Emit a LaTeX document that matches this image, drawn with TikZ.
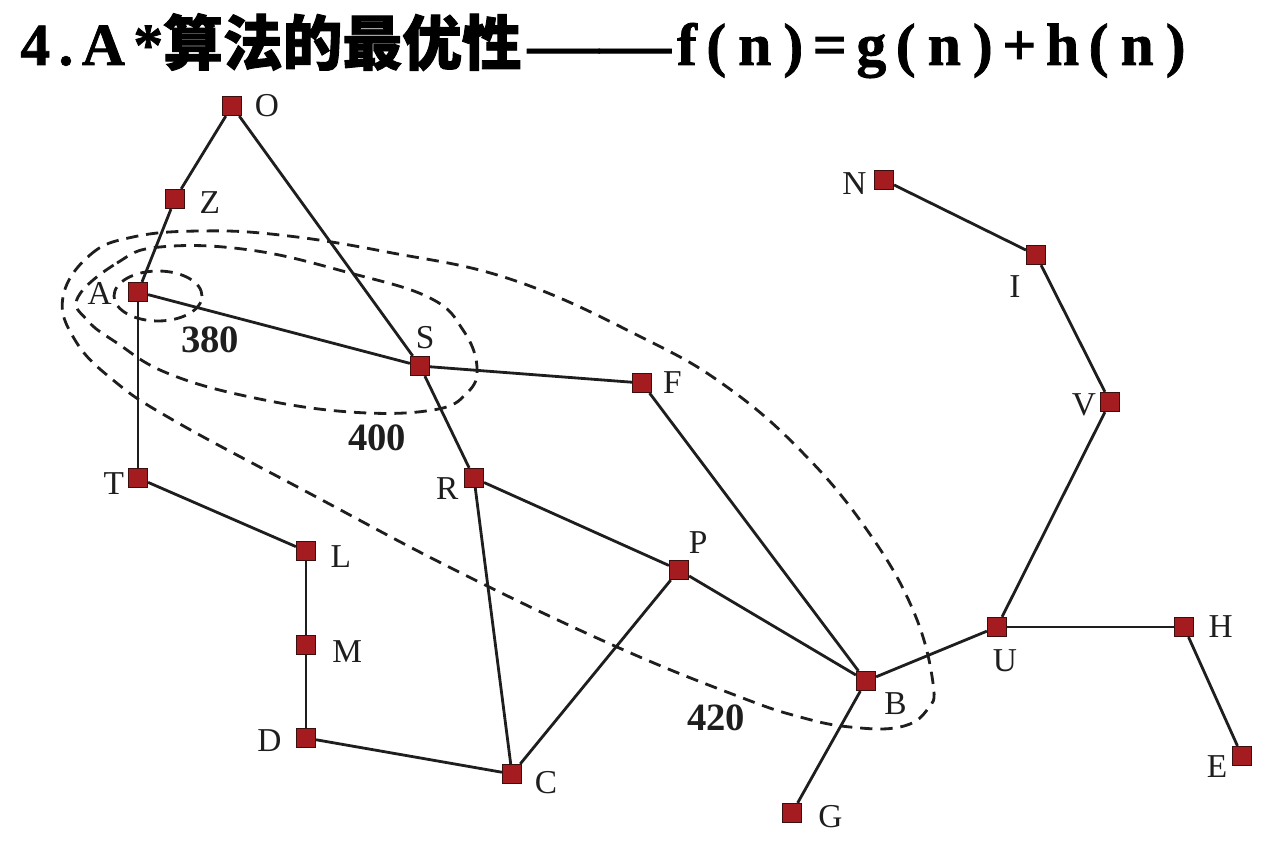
\documentclass[tikz,border=0pt]{standalone}
\usepackage{fontspec}
\setmainfont{Liberation Serif}
\newfontfamily\headfont{Liberation Serif}[BoldFeatures={FakeBold=1.2}]
\newfontfamily\cjk{Noto Sans CJK SC}[BoldFeatures={FakeBold=1.5}]
\definecolor{boxred}{RGB}{165,28,32}
\definecolor{boxrim}{RGB}{60,15,15}
\definecolor{ink}{RGB}{30,30,30}

\begin{document}
\begin{tikzpicture}[x=0.02cm, y=-0.02cm,
  vert/.style = {rectangle, draw=boxrim, fill=boxred, line width=0.5pt, minimum size=11pt, inner sep=0pt},
  edge/.style = {draw=ink, line width=1.6pt},
  ring/.style = {draw=ink, line width=1.6pt, dash pattern=on 7pt off 4.5pt},
  every label/.style = {font=\fontsize{19}{19}\selectfont, text=ink, inner sep=1pt},
  cost/.style = {font=\bfseries\fontsize{22}{22}\selectfont, text=ink},
  ]
  \useasboundingbox (0,0) rectangle (1279,841);
  \node[anchor=base west, inner sep=0pt, font=\headfont\bfseries\fontsize{34}{34}\selectfont] (title) at (20,65)
    {{\addfontfeature{LetterSpace=14}4.A*}{\cjk 算法的最优性}\hspace{0.1em}\scalebox{1.2}[1]{——}\hspace{0.1em}{\addfontfeature{LetterSpace=16}f(\hspace{0.2em}n\hspace{0.2em})=g(\hspace{0.2em}n\hspace{0.2em})+h(\hspace{0.2em}n\hspace{0.2em})}};

  \node[vert, label={[label distance=6pt]0:O}] (O) at (232,106) {};
  \node[vert, label={[label distance=7pt, yshift=-2pt]0:Z}] (Z) at (175,199) {};
  \node[vert, label={[label distance=8pt, yshift=-1pt]180:A}] (A) at (138,292) {};
  \node[vert, label={[label distance=3pt, xshift=3pt]90:S}] (S) at (420,366) {};
  \node[vert, label={[label distance=5pt]0:F}] (F) at (642,383) {};
  \node[vert, label={[label distance=2pt, yshift=-6pt]180:R}] (R) at (474,478) {};
  \node[vert, label={[label distance=1pt, yshift=-3pt]180:T}] (T) at (138,478) {};
  \node[vert, label={[label distance=7pt, yshift=-3pt]0:L}] (L) at (306,551) {};
  \node[vert, label={[label distance=8pt, yshift=-4pt]0:M}] (M) at (306,645) {};
  \node[vert, label={[label distance=7pt, yshift=-1.5pt]180:D}] (D) at (306,738) {};
  \node[vert, label={[label distance=6pt, yshift=-5pt]0:C}] (C) at (512,774) {};
  \node[vert, label={[label distance=3pt]62:P}] (P) at (679,570) {};
  \node[vert, label={[label distance=4pt]-30:B}] (B) at (866,681) {};
  \node[vert, label={[label distance=8pt, yshift=-2pt]0:G}] (G) at (792,813) {};
  \node[vert, label={[label distance=6pt, xshift=4.5pt]-90:U}] (U) at (997,627) {};
  \node[vert, label={[label distance=7pt]0:H}] (H) at (1184,627) {};
  \node[vert, label={[label distance=1.5pt, yshift=-6pt]180:E}] (E) at (1242,756) {};
  \node[vert, label={[label distance=1pt, yshift=-1.5pt]180:V}] (V) at (1110,402) {};
  \node[vert, label={[label distance=5pt, xshift=-12pt]-90:I}] (I) at (1036,255) {};
  \node[vert, label={[label distance=3pt, yshift=-2pt]180:N}] (N) at (884,180) {};

  \foreach \u/\v in {O/Z, Z/A, O/S, A/S, A/T, S/F, S/R, F/B, R/P, R/C, P/C, P/B,
                     B/G, B/U, U/H, H/E, U/V, V/I, I/N, T/L, L/M, M/D, D/C}
    \draw[edge] (\u) -- (\v);

  \draw[ring] (158,296) ellipse [x radius=0.88cm, y radius=0.5cm];
  \draw[ring] plot[smooth cycle, tension=0.7] coordinates {
    (78,297) (117,263) (160,247) (250,250) (350,273) (430,298) (463,330)
    (477,367) (467,393) (433,410) (350,412) (250,397) (167,373) (117,343) (87,320)};
  \draw[ring] plot[smooth cycle, tension=0.7] coordinates {
    (63,297) (90,255) (133,237) (200,231) (280,235) (387,252) (513,280)
    (643,338) (727,387) (803,453) (867,530) (913,610) (933,683) (927,710)
    (900,727) (850,727) (800,717) (740,697) (617,647) (457,571) (307,492)
    (173,420) (113,380) (75,340)};

  \node[cost] (c380) at (210,340) {380};
  \node[cost] (c400) at (377,438) {400};
  \node[cost] (c420) at (716,718) {420};
\end{tikzpicture}
\end{document}
